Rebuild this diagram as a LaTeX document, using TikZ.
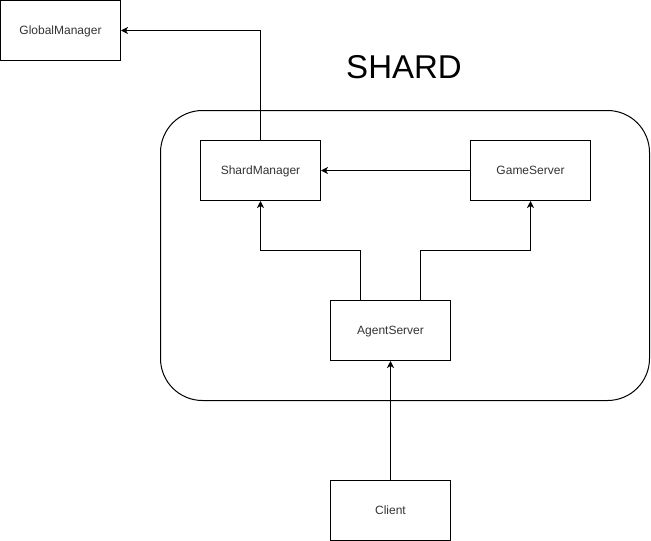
\documentclass[tikz,border=0pt]{standalone}
\usepackage{fontspec}
\setmainfont{Liberation Sans}
\usetikzlibrary{arrows.meta}
\begin{document}
\begin{tikzpicture}[x=1pt,y=-1pt,line width=1pt,
  box/.style={draw,minimum width=120pt,minimum height=60pt,inner sep=0pt,text height=8.6pt,text depth=0pt,font=\fontsize{12}{14}\selectfont,text=black!80},
  conn/.style={-{Stealth[length=7pt,width=7pt,inset=2pt]}}]
\useasboundingbox (0,0) rectangle (651,541);
\draw[rounded corners=42pt] (160.5,110.5) rectangle (649.5,400.5);
\node[font=\fontsize{33}{38}\selectfont,text height=23.6pt,text depth=0pt] (title) at (404,67) {SHARD};
\node[box] (gm) at (60.5,30.5) {GlobalManager};
\node[box] (sm) at (260.5,170.5) {ShardManager};
\node[box] (gs) at (530.5,170.5) {GameServer};
\node[box] (as) at (390.5,330.5) {AgentServer};
\node[box] (cl) at (390.5,510.5) {Client};
\draw[conn] (sm.north) |- (gm.east);
\draw[conn] (gs.west) -- (sm.east);
\draw[conn] ([xshift=-30pt]as.north) -- ++(0,-50) -| (sm.south);
\draw[conn] ([xshift=30pt]as.north) -- ++(0,-50) -| (gs.south);
\draw[conn] (cl.north) -- (as.south);
\end{tikzpicture}
\end{document}
